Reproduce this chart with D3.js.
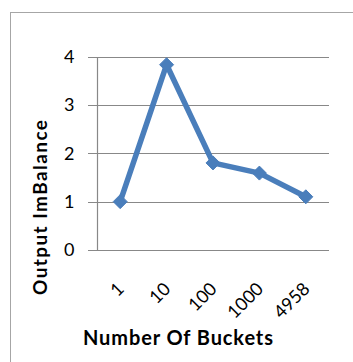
<!DOCTYPE html>
<html>
<head>
<meta charset="utf-8">
<script src="https://cdn.jsdelivr.net/npm/d3@7"></script>
<style>
  html, body { margin: 0; padding: 0; background: #fff; }
  svg { display: block; }
  text { font-family: Lato, "Open Sans", sans-serif; fill: #000; }
</style>
</head>
<body>
<svg id="chart" width="353" height="362"></svg>
<script>
// Output imbalance by number of buckets
const categories = ["1", "10", "100", "1000", "4958"];
const imbalance = [1.0, 3.83, 1.8, 1.59, 1.1];
const yTicks = [0, 1, 2, 3, 4];

const svg = d3.select("#chart");

// chart frame
svg.append("rect")
  .attr("x", 10.5).attr("y", 12.5)
  .attr("width", 360).attr("height", 370)
  .attr("fill", "#fff")
  .attr("stroke", "#a6a6a6").attr("stroke-width", 1);

const plot = { left: 97, right: 329, top: 56.5, bottom: 250 };

const x = d3.scaleBand()
  .domain(categories)
  .range([plot.left, plot.right]);

const y = d3.scaleLinear()
  .domain([0, 4])
  .range([plot.bottom, plot.top]);

// horizontal gridlines (with short ticks left of the axis)
svg.append("g")
  .selectAll("line")
  .data(yTicks)
  .join("line")
  .attr("x1", plot.left - 9).attr("x2", plot.right)
  .attr("y1", d => Math.round(y(d)) + 0.5).attr("y2", d => Math.round(y(d)) + 0.5)
  .attr("stroke", "#888").attr("stroke-width", 1.2);

// vertical axis line
svg.append("line")
  .attr("x1", plot.left + 0.5).attr("x2", plot.left + 0.5)
  .attr("y1", Math.round(y(4))).attr("y2", Math.round(y(0)) + 1)
  .attr("stroke", "#888").attr("stroke-width", 1.2);

// y tick labels
svg.append("g")
  .selectAll("text")
  .data(yTicks)
  .join("text")
  .attr("x", 74.5)
  .attr("y", d => y(d))
  .attr("dy", "0.36em")
  .attr("text-anchor", "end")
  .attr("font-size", 18)
  .text(d => d);

// x tick labels, rotated
svg.append("g")
  .selectAll("text")
  .data(categories)
  .join("text")
  .attr("transform", d => `translate(${x(d) + x.bandwidth() / 2 + 5},${plot.bottom + 40}) rotate(-45)`)
  .attr("text-anchor", "end")
  .attr("font-size", 18)
  .text(d => d);

// axis titles
svg.append("text")
  .attr("x", 178).attr("y", 345)
  .attr("text-anchor", "middle")
  .attr("font-size", 20)
  .attr("font-weight", "bold")
  .attr("textLength", 190)
  .attr("lengthAdjust", "spacing")
  .text("Number Of Buckets");

svg.append("text")
  .attr("transform", "translate(46.5,207.5) rotate(-90)")
  .attr("text-anchor", "middle")
  .attr("font-size", 19)
  .attr("font-weight", "bold")
  .attr("textLength", 175)
  .attr("lengthAdjust", "spacing")
  .text("Output ImBalance");

// series line
const pts = categories.map((c, i) => [x(c) + x.bandwidth() / 2, y(imbalance[i])]);

svg.append("path")
  .attr("d", d3.line()(pts))
  .attr("fill", "none")
  .attr("stroke", "#4a7ebb")
  .attr("stroke-width", 5.5)
  .attr("stroke-linejoin", "round");

// diamond markers
svg.append("g")
  .selectAll("path")
  .data(pts)
  .join("path")
  .attr("transform", d => `translate(${d[0]},${d[1]})`)
  .attr("d", "M0,-7L7,0L0,7L-7,0Z")
  .attr("fill", "#4a7ebb")
  .attr("stroke", "#4a7ebb")
  .attr("stroke-width", 1);
</script>
</body>
</html>
